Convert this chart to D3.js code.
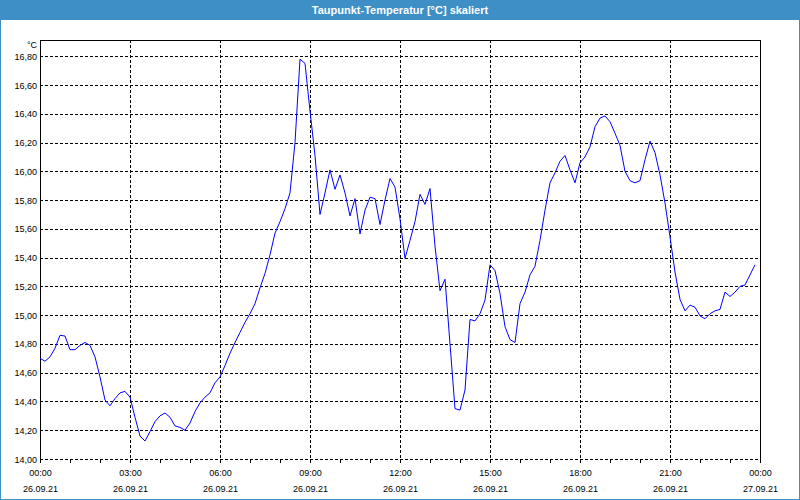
<!DOCTYPE html>
<html><head><meta charset="utf-8">
<script src="https://cdn.jsdelivr.net/npm/d3@7"></script>
<style>
html,body{margin:0;padding:0;background:#fff;}
svg{display:block;}
text{font-family:"Liberation Sans",Arial,sans-serif;}
</style></head><body>
<svg id="chart" width="800" height="500"></svg>
<script>
const title = "Taupunkt-Temperatur [°C] skaliert";
const unitLabel = "°C";
const startTime = "2021-09-26T00:00:00";
const endTime = "2021-09-27T00:00:00";
const stepMinutes = 10;
const dewPoint = [
  14.70,14.68,14.71,14.77,14.86,14.855,14.76,14.76,14.79,14.81,
  14.79,14.71,14.57,14.41,14.37,14.42,14.46,14.47,14.43,14.29,
  14.16,14.125,14.19,14.26,14.30,14.32,14.29,14.23,14.22,14.20,
  14.25,14.33,14.39,14.43,14.46,14.53,14.57,14.65,14.735,14.81,
  14.88,14.95,15.01,15.08,15.19,15.29,15.42,15.57,15.65,15.74,
  15.85,16.20,16.78,16.75,16.42,16.11,15.70,15.85,16.01,15.875,
  15.975,15.85,15.69,15.81,15.565,15.73,15.82,15.81,15.63,15.80,
  15.95,15.89,15.67,15.395,15.52,15.65,15.84,15.77,15.88,15.48,
  15.17,15.25,14.80,14.35,14.34,14.48,14.97,14.96,15.01,15.105,
  15.35,15.31,15.15,14.92,14.83,14.81,15.08,15.16,15.28,15.34,
  15.52,15.73,15.92,15.99,16.07,16.11,16.01,15.92,16.06,16.10,
  16.17,16.31,16.37,16.385,16.345,16.265,16.18,16.00,15.935,15.92,
  15.935,16.08,16.21,16.13,15.975,15.78,15.545,15.30,15.11,15.03,
  15.07,15.055,14.995,14.975,15.01,15.03,15.04,15.16,15.13,15.16,
  15.20,15.21,15.28,15.35
];
const yTickValues = [14.0,14.2,14.4,14.6,14.8,15.0,15.2,15.4,15.6,15.8,16.0,16.2,16.4,16.6,16.8];
const yMax = 16.913;
const xTickTimes = ["00:00","03:00","06:00","09:00","12:00","15:00","18:00","21:00","00:00"];
const xTickDates = ["26.09.21","26.09.21","26.09.21","26.09.21","26.09.21","26.09.21","26.09.21","26.09.21","27.09.21"];

const W = 800, H = 500;
const L = 40, R = 760, T = 40, B = 459;
const blue = "#3d8fc6";
const svg = d3.select("#chart");

svg.append("rect").attr("width", W).attr("height", H).attr("fill", "#fff");
svg.append("rect").attr("x", 0).attr("y", 0).attr("width", W).attr("height", 20).attr("fill", blue);
svg.append("rect").attr("x", 0.5).attr("y", 0.5).attr("width", W - 1).attr("height", H - 1)
  .attr("fill", "none").attr("stroke", blue).attr("stroke-width", 1);
svg.append("text").attr("x", W / 2).attr("y", 10).attr("text-anchor", "middle")
  .attr("dominant-baseline", "central").attr("fill", "#fff")
  .attr("font-size", 11).attr("font-weight", "bold").text(title);

const t0 = new Date(startTime), t1 = new Date(endTime);
const x = d3.scaleTime().domain([t0, t1]).range([L, R]);
const y = d3.scaleLinear().domain([yTickValues[0], yMax]).range([B, T]);
const data = dewPoint.map((v, i) => ({ t: d3.timeMinute.offset(t0, i * stepMinutes), v }));

const snap = v => Math.round(v) + 0.5;

// horizontal grid
svg.append("g").selectAll("line").data(yTickValues).join("line")
  .attr("x1", L).attr("x2", R)
  .attr("y1", d => snap(y(d))).attr("y2", d => snap(y(d)))
  .attr("stroke", "#000").attr("stroke-dasharray", "3,2").attr("shape-rendering", "crispEdges");

// vertical grid every 3h
const majorTicks = d3.timeHour.every(3).range(t0, d3.timeMinute.offset(t1, 1));
svg.append("g").selectAll("line").data(majorTicks.slice(1, -1)).join("line")
  .attr("x1", d => snap(x(d))).attr("x2", d => snap(x(d)))
  .attr("y1", T).attr("y2", B)
  .attr("stroke", "#000").attr("stroke-dasharray", "3,2").attr("shape-rendering", "crispEdges");

// frame
const frame = svg.append("g").attr("stroke", "#000").attr("shape-rendering", "crispEdges");
frame.append("line").attr("x1", L).attr("x2", R + 1).attr("y1", T + 0.5).attr("y2", T + 0.5);
frame.append("line").attr("x1", L + 0.5).attr("x2", L + 0.5).attr("y1", T).attr("y2", B + 1);
frame.append("line").attr("x1", R + 0.5).attr("x2", R + 0.5).attr("y1", T).attr("y2", B + 1);

// minor x ticks (hourly)
const minorAxis = d3.axisBottom(x).ticks(d3.timeHour.every(1)).tickSize(4).tickFormat("");
const gMinor = svg.append("g").attr("transform", `translate(0,${B})`).call(minorAxis);
gMinor.select(".domain").remove();
gMinor.selectAll("line").attr("stroke", "#000").attr("shape-rendering", "crispEdges");

// x labels
const labelAxis = d3.axisBottom(x).tickValues(majorTicks).tickSize(0).tickPadding(0)
  .tickFormat((d, i) => xTickTimes[i]);
const gLab = svg.append("g").attr("transform", `translate(0,0)`).call(labelAxis);
gLab.select(".domain").remove();
gLab.selectAll("text").attr("y", 473).attr("dy", null).attr("dominant-baseline", "central")
  .attr("font-size", 9).attr("fill", "#000").attr("font-family", "Liberation Sans, Arial, sans-serif");
gLab.selectAll(".tick").append("text").attr("y", 489).attr("dominant-baseline", "central")
  .attr("text-anchor", "middle").attr("font-size", 9).attr("fill", "#000")
  .attr("font-family", "Liberation Sans, Arial, sans-serif")
  .text((d, i) => xTickDates[i]);

// y labels
const yAxis = d3.axisLeft(y).tickValues(yTickValues).tickSize(0).tickPadding(0)
  .tickFormat(d => d.toFixed(2).replace(".", ","));
const gY = svg.append("g").attr("transform", `translate(${L - 3},0)`).call(yAxis);
gY.select(".domain").remove();
gY.selectAll("text").attr("font-size", 9).attr("fill", "#000").attr("dy", null)
  .attr("dominant-baseline", "central").attr("font-family", "Liberation Sans, Arial, sans-serif");
svg.append("text").attr("x", L - 3).attr("y", 45).attr("text-anchor", "end")
  .attr("dominant-baseline", "central").attr("font-size", 9).attr("fill", "#000").text(unitLabel);

// data line
const line = d3.line().x(d => x(d.t)).y(d => y(d.v));
svg.append("path").datum(data).attr("d", line)
  .attr("fill", "none").attr("stroke", "#0000ff").attr("stroke-width", 1);
</script>
</body></html>
